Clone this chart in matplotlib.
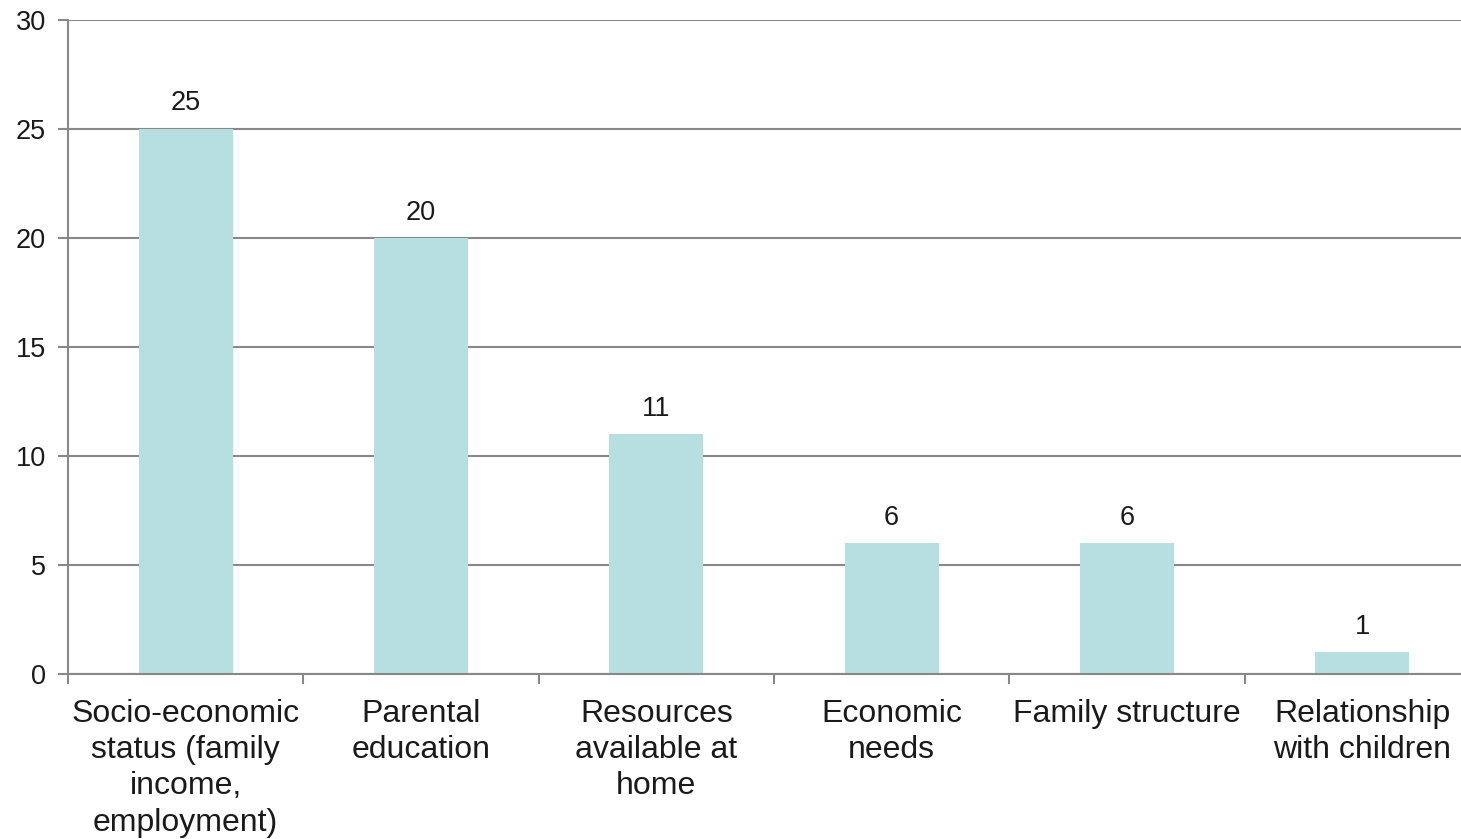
import matplotlib
matplotlib.use("Agg")
import matplotlib.pyplot as plt
import numpy as np

categories = ["Socio-economic\nstatus (family\nincome,\nemployment)", "Parental\neducation",
              "Resources\navailable at\nhome", "Economic\nneeds", "Family structure",
              "Relationship\nwith children"]
values = [25, 20, 11, 6, 6, 1]
yticks = [0, 5, 10, 15, 20, 25, 30]

plt.rcParams['font.family'] = ['Liberation Sans', 'DejaVu Sans']

fig = plt.figure(figsize=(14.61, 8.39), dpi=100)
ax = fig.add_axes([68/1461, 165/839, 1412/1461, 654/839])

x = np.arange(len(categories))
bars = ax.bar(x, values, width=0.4, color='#B7DFE1', zorder=3)
ax.set_xlim(-0.5, len(categories) - 0.5)
ax.set_ylim(0, 30)
ax.set_yticks(yticks)
ax.set_yticklabels([str(v) for v in yticks], fontsize=19.5, color='#1a1a1a')
ax.set_xticks(x)
ax.set_xticklabels(categories, fontsize=23, color='#1a1a1a', linespacing=1.27)
ax.set_xticks(np.arange(len(categories) + 1) - 0.5, minor=True)
ax.tick_params(axis='x', which='major', length=0, pad=18)
ax.tick_params(axis='x', which='minor', length=7, width=1.5, color='#888888')
ax.tick_params(axis='y', which='major', length=7, width=1.5, color='#888888', pad=9)

ax.grid(axis='y', color='#888888', linewidth=1.5, zorder=0)
for s in ['top', 'right']:
    ax.spines[s].set_visible(False)
for s in ['left', 'bottom']:
    ax.spines[s].set_color('#888888')
    ax.spines[s].set_linewidth(1.5)
ax.spines['bottom'].set_zorder(4)

for xi, v in zip(x, values):
    ax.annotate(str(v), (xi, v), xytext=(0, 9), textcoords='offset points',
                ha='center', va='bottom', fontsize=19.5, color='#1a1a1a')

fig.savefig("out.png", dpi=100)
